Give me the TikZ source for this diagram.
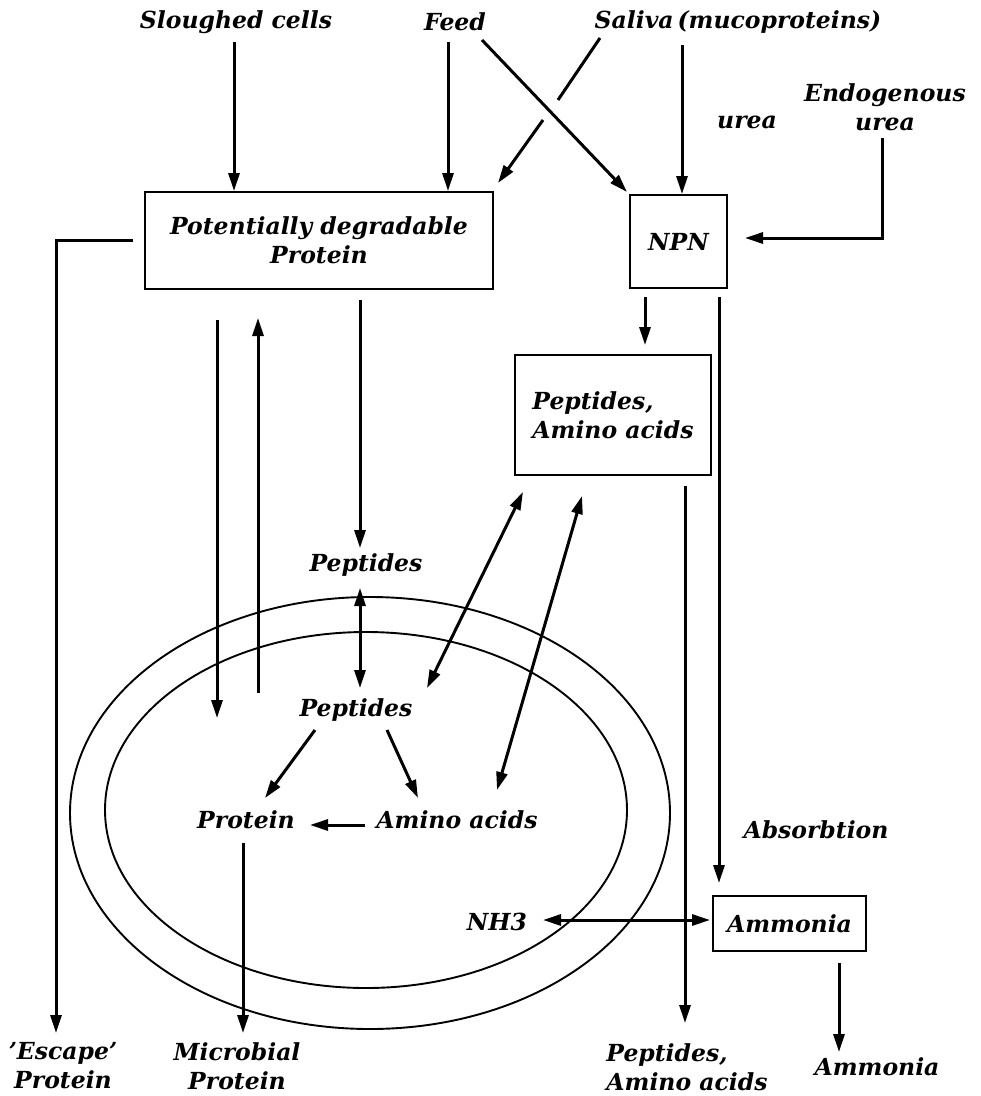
\documentclass[tikz,border=0pt]{standalone}
\usepackage{fontspec}
\setmainfont{DejaVu Serif}
\usetikzlibrary{arrows.meta}
\begin{document}
\begin{tikzpicture}[x=1pt,y=-1pt,
  lbl/.style={font=\bfseries\itshape\fontsize{23.5}{29}\selectfont, inner sep=0pt, align=center},
  lbll/.style={lbl, align=left},
  box/.style={draw, line width=2pt, inner sep=0pt},
  conn/.style={line width=3pt, -{Triangle[length=18pt,width=11pt]}},
  dconn/.style={line width=3pt, {Triangle[length=18pt,width=11pt]}-{Triangle[length=18pt,width=11pt]}},
  plain/.style={line width=3pt},
  cell/.style={line width=1.9pt}]
\useasboundingbox (0,0) rectangle (981,1096);
% texts
\node[lbl] (sl) at (236,22) {Sloughed cells};
\node[lbl] (feed) at (455,22) {Feed};
\node[lbl] (sal) at (738,22) {Saliva\,(mucoproteins)};
\node[lbl] (urea) at (747,122) {urea};
\node[lbl] (endo) at (885,107) {Endogenous\\urea};
\node[lbl] (pep1) at (366,565) {Peptides};
\node[lbl] (pep2) at (356,710) {Peptides};
\node[lbl] (prot) at (246,820) {Protein};
\node[lbl] (aa) at (457,820) {Amino acids};
\node[lbl] (abs) at (816,830) {Absorbtion};
\node[lbl] (nh3) at (497,922) {NH3};
\node[lbl] (esc) at (63,1066) {\char"27 Escape\char"27\\Protein};
\node[lbl] (mic) at (237,1066) {Microbial\\Protein};
\node[lbll] (pao) at (687,1067) {Peptides,\\Amino acids};
\node[lbl] (amo) at (877,1067) {Ammonia};
% boxes
\node[box, lbl, minimum width=348pt, minimum height=97pt] (pdp) at (319,240.5) {Potentially degradable\\Protein};
\node[box, lbl, minimum width=97pt, minimum height=93pt] (npn) at (678.5,241.5) {NPN};
\node[box, lbll, minimum width=196pt, minimum height=120pt] (pa) at (613,415) {Peptides,\\Amino acids};
\node[box, lbl, minimum width=153pt, minimum height=55pt] (amb) at (789.5,923.5) {Ammonia};
% cell
\draw[cell] (370,813) ellipse [x radius=300, y radius=216];
\draw[cell] (366,810) ellipse [x radius=261, y radius=178];
% coordinates
\coordinate (c1) at (234,42);
\coordinate (c2) at (448,42);
\coordinate (c3) at (482,40);
\coordinate (c3e) at (627,192);
\coordinate (c4) at (600,38);
\coordinate (c4a) at (558,100);
\coordinate (c4b) at (543,120);
\coordinate (c4e) at (498,183);
\coordinate (c5) at (682,45);
\coordinate (c6) at (882,138);
\coordinate (c6b) at (882,238);
\coordinate (c6e) at (745,238);
\coordinate (c7) at (133,240);
\coordinate (c7b) at (56,240);
\coordinate (c7e) at (56,1033);
\coordinate (d1) at (217,320);
\coordinate (d1e) at (217,718);
\coordinate (d2) at (258,693);
\coordinate (d2e) at (258,318);
\coordinate (d3) at (360,300);
\coordinate (d3e) at (360,548);
\coordinate (d4) at (360,588);
\coordinate (d4e) at (360,688);
\coordinate (e1) at (315,730);
\coordinate (e1e) at (265,798);
\coordinate (e2) at (387,730);
\coordinate (e2e) at (418,798);
\coordinate (e3) at (365,825);
\coordinate (e3e) at (310,825);
\coordinate (e4) at (243,843);
\coordinate (e4e) at (243,1033);
\coordinate (f1) at (427,688);
\coordinate (f1e) at (523,492);
\coordinate (f2) at (497,790);
\coordinate (f2e) at (582,496);
\coordinate (g1) at (645,297);
\coordinate (g1e) at (645,345);
\coordinate (g2) at (719,297);
\coordinate (g2e) at (719,883);
\coordinate (g3) at (685,486);
\coordinate (g3e) at (685,1023);
\coordinate (h1) at (543,920);
\coordinate (h1e) at (710,920);
\coordinate (h2) at (839,963);
\coordinate (h2e) at (839,1052);
% connectors
\draw[conn] (c1) -- (c1 |- pdp.north) ;
\draw[conn] (c2) -- (c2 |- pdp.north);
\draw[conn] (c3) -- (c3e);
\draw[plain] (c4) -- (c4a);
\draw[conn] (c4b) -- (c4e);
\draw[conn] (c5) -- (c5 |- npn.north);
\draw[conn] (c6) -- (c6b) -- (c6e);
\draw[conn] (c7) -- (c7b) -- (c7e);
\draw[conn] (d1) -- (d1e);
\draw[conn] (d2) -- (d2e);
\draw[conn] (d3) -- (d3e);
\draw[dconn] (d4) -- (d4e);
\draw[conn] (e1) -- (e1e);
\draw[conn] (e2) -- (e2e);
\draw[conn] (e3) -- (e3e);
\draw[conn] (e4) -- (e4e);
\draw[dconn] (f1) -- (f1e);
\draw[dconn] (f2) -- (f2e);
\draw[conn] (g1) -- (g1e);
\draw[conn] (g2) -- (g2e);
\draw[conn] (g3) -- (g3e);
\draw[dconn] (h1) -- (h1e);
\draw[conn] (h2) -- (h2e);
\end{tikzpicture}
\end{document}
